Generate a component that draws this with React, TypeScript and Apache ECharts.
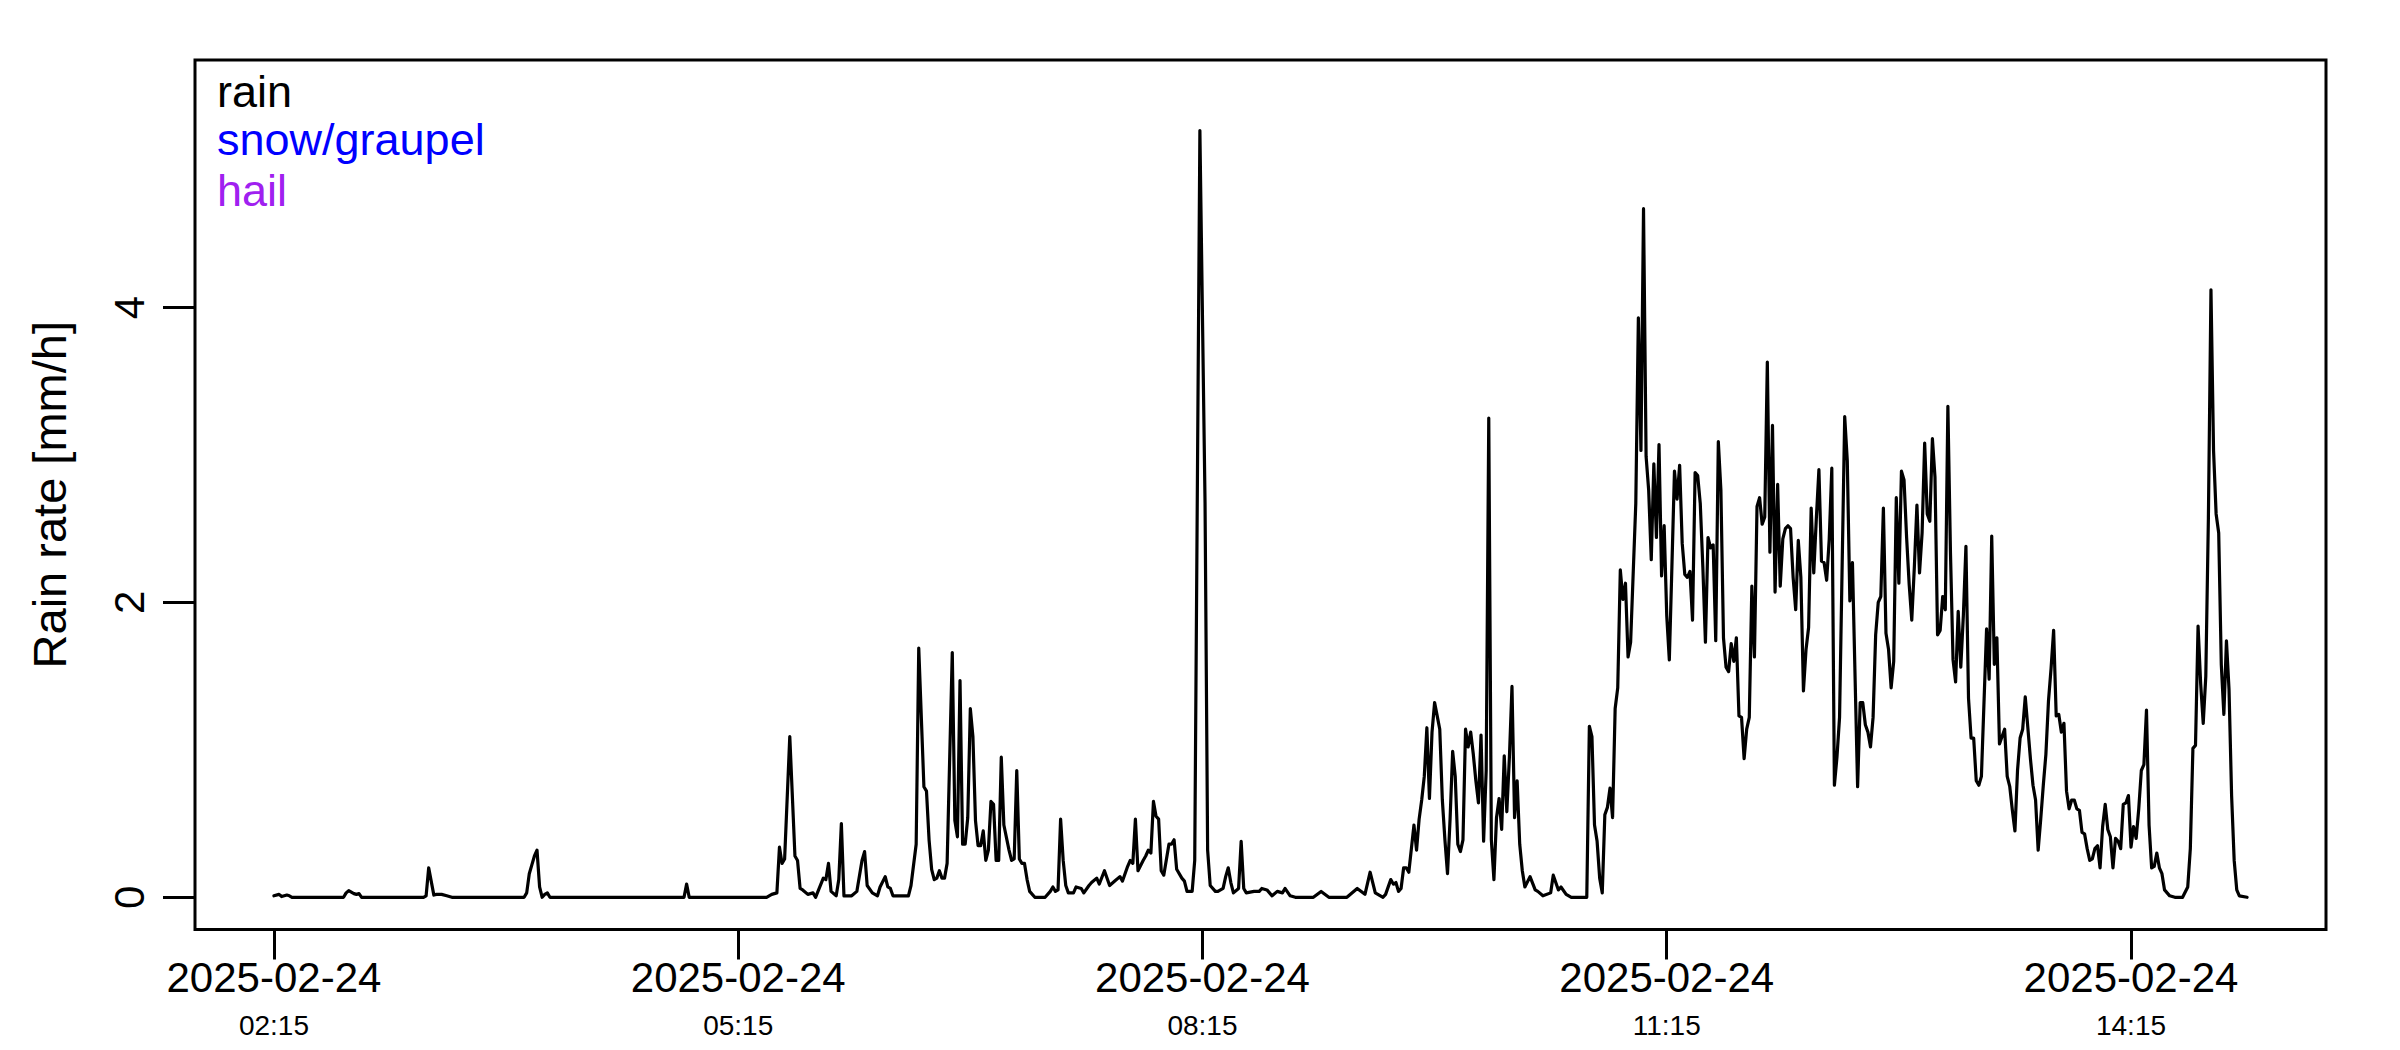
import React, { useEffect, useRef } from "react";
import * as echarts from "echarts";

// ---------- data ----------
const DATE_LABEL = "2025-02-24";
// minutes after midnight of the first measurement (02:15)
const SERIES_START_MINUTE = 135;

// [minutes after 02:15, rain rate mm/h]
const rainEarly: [number, number][] = [
  [0, 0.01], [2, 0.02], [3, 0.005], [5, 0.015], [6, 0.01], [7, 0], [27, 0], [28, 0.03], [29, 0.045],
  [31, 0.025], [32, 0.02], [33, 0.025], [34, 0], [58, 0], [59, 0.01], [60, 0.2], [62, 0.015], [63, 0.02],
  [65, 0.02], [67, 0.01], [69, 0], [97, 0], [98, 0.03], [99, 0.16], [100, 0.22], [101, 0.28], [102, 0.32],
  [103, 0.07], [104, 0], [105, 0.02], [106, 0.03], [107, 0], [159, 0], [160, 0.09], [161, 0], [191, 0],
];

const rainMorning: [number, number][] = [
  [193, 0.02], [195, 0.03], [196, 0.34], [197, 0.23], [198, 0.26], [200, 1.09], [202, 0.28], [203, 0.25],
  [204, 0.06], [205, 0.05], [207, 0.02], [209, 0.03], [210, 0], [213, 0.13], [214, 0.12], [215, 0.23],
  [216, 0.04], [218, 0.01], [219, 0.12], [220, 0.5], [221, 0.01], [224, 0.01], [226, 0.04], [228, 0.25],
  [229, 0.31], [230, 0.08], [232, 0.03], [234, 0.01], [235, 0.07], [237, 0.14], [238, 0.07], [239, 0.06],
  [240, 0.01], [246, 0.01], [247, 0.08], [249, 0.36], [250, 1.69], [252, 0.75], [253, 0.72], [254, 0.39],
  [255, 0.19], [256, 0.12], [257, 0.13], [258, 0.18], [259, 0.13], [260, 0.13], [261, 0.23], [263, 1.66],
  [264, 0.52], [265, 0.41], [266, 1.47], [267, 0.36], [268, 0.36], [269, 0.54], [270, 1.28], [271, 1.09],
  [272, 0.52], [273, 0.35], [274, 0.35], [275, 0.45], [276, 0.25], [277, 0.32], [278, 0.65], [279, 0.63],
  [280, 0.25], [281, 0.25], [282, 0.95], [283, 0.49], [285, 0.32], [286, 0.25], [287, 0.26], [288, 0.86],
  [289, 0.26], [290, 0.23], [291, 0.23], [292, 0.12], [293, 0.04], [295, 0], [299, 0], [301, 0.04],
  [302, 0.07], [303, 0.04], [304, 0.05], [305, 0.53], [306, 0.25], [307, 0.08], [308, 0.03], [310, 0.03],
  [311, 0.07], [313, 0.06], [314, 0.03], [316, 0.08], [317, 0.1], [319, 0.13], [320, 0.09], [322, 0.18],
  [324, 0.08], [326, 0.11], [328, 0.14], [329, 0.11], [331, 0.21], [332, 0.25], [333, 0.23], [334, 0.53],
  [335, 0.18], [337, 0.25], [338, 0.28], [339, 0.32], [340, 0.3], [341, 0.65], [342, 0.55], [343, 0.53],
  [344, 0.18], [345, 0.15], [347, 0.36], [348, 0.36], [349, 0.39], [350, 0.19], [352, 0.13], [353, 0.11],
  [354, 0.04], [356, 0.04], [357, 0.25], [359, 5.2], [361, 2.67], [362, 0.32], [363, 0.08], [365, 0.04],
  [366, 0.04], [368, 0.06], [369, 0.14], [370, 0.2], [371, 0.1], [372, 0.03], [374, 0.06], [375, 0.38],
  [376, 0.06], [377, 0.03], [380, 0.04], [382, 0.04], [383, 0.06], [385, 0.05], [387, 0.01], [389, 0.04],
  [391, 0.03], [392, 0.06], [394, 0.01],
];

const rainMidday: [number, number][] = [
  [396, 0], [403, 0], [406, 0.04], [409, 0], [416, 0], [420, 0.06], [423, 0.02], [425, 0.17], [427, 0.03],
  [430, 0], [431, 0.02], [433, 0.12], [434, 0.09], [435, 0.1], [436, 0.04], [437, 0.06], [438, 0.2],
  [439, 0.2], [440, 0.17], [441, 0.33], [442, 0.49], [443, 0.32], [444, 0.53], [445, 0.66], [446, 0.82],
  [447, 1.15], [448, 0.67], [449, 1.12], [450, 1.32], [451, 1.23], [452, 1.14], [453, 0.66], [454, 0.39],
  [455, 0.16], [456, 0.53], [457, 0.99], [458, 0.82], [459, 0.36], [460, 0.31], [461, 0.39], [462, 1.14],
  [463, 1.02], [464, 1.12], [465, 0.97], [466, 0.79], [467, 0.64], [468, 1.1], [469, 0.38], [470, 0.86],
  [471, 3.25], [472, 0.39], [473, 0.12], [474, 0.54], [475, 0.67], [476, 0.46], [477, 0.96], [478, 0.58],
  [479, 0.95], [480, 1.43], [481, 0.54], [482, 0.79], [483, 0.36], [484, 0.18], [485, 0.07], [487, 0.14],
  [489, 0.05], [490, 0.04], [492, 0.01], [495, 0.03], [496, 0.15], [498, 0.05], [499, 0.07], [501, 0.02],
  [503, 0], [509, 0], [510, 1.16], [511, 1.09], [512, 0.49], [513, 0.38], [514, 0.13], [515, 0.03],
  [516, 0.56], [517, 0.61], [518, 0.74], [519, 0.54], [520, 1.28], [521, 1.42], [522, 2.22], [523, 2.02],
  [524, 2.13], [525, 1.63], [526, 1.73], [528, 2.67], [529, 3.93], [530, 3.03], [531, 4.67], [532, 2.99],
  [533, 2.76], [534, 2.29], [535, 2.94], [536, 2.44], [537, 3.07], [538, 2.18], [539, 2.52], [540, 1.91],
  [541, 1.61], [542, 2.24], [543, 2.89], [544, 2.7], [545, 2.93], [546, 2.4], [547, 2.19], [548, 2.17],
  [549, 2.21], [550, 1.88], [551, 2.88], [552, 2.86], [553, 2.67], [554, 2.24], [555, 1.73], [556, 2.44],
  [557, 2.37], [558, 2.39], [559, 1.74], [560, 3.09], [561, 2.76], [562, 1.76], [563, 1.56], [564, 1.53],
  [565, 1.72], [566, 1.6], [567, 1.76], [568, 1.23], [569, 1.22], [570, 0.94], [571, 1.14], [572, 1.22],
  [573, 2.11], [574, 1.63], [575, 2.65], [576, 2.71], [577, 2.53], [578, 2.58], [579, 3.63], [580, 2.34],
  [581, 3.2], [582, 2.07], [583, 2.8], [584, 2.11], [585, 2.43], [586, 2.5], [587, 2.52], [588, 2.5],
  [589, 2.17], [590, 1.95], [591, 2.42], [592, 2.17], [593, 1.4], [594, 1.68], [595, 1.83], [596, 2.64],
  [597, 2.2], [598, 2.57], [599, 2.9], [600, 2.28],
];

const rainAfternoon: [number, number][] = [
  [601, 2.27], [602, 2.15], [603, 2.43], [604, 2.91], [605, 0.76], [606, 0.95], [607, 1.22], [609, 3.26],
  [610, 2.96], [611, 2.01], [612, 2.27], [614, 0.75], [615, 1.32], [616, 1.32], [617, 1.17], [618, 1.12],
  [619, 1.02], [620, 1.22], [621, 1.78], [622, 2.0], [623, 2.04], [624, 2.64], [625, 1.79], [626, 1.68],
  [627, 1.42], [628, 1.6], [629, 2.71], [630, 2.13], [631, 2.89], [632, 2.83], [633, 2.44], [634, 2.12],
  [635, 1.88], [636, 2.24], [637, 2.66], [638, 2.2], [639, 2.47], [640, 3.08], [641, 2.6], [642, 2.55],
  [643, 3.11], [644, 2.85], [645, 1.78], [646, 1.81], [647, 2.04], [648, 1.95], [649, 3.33], [650, 2.34],
  [651, 1.61], [652, 1.46], [653, 1.94], [654, 1.56], [655, 1.91], [656, 2.38], [657, 1.35], [658, 1.08],
  [659, 1.08], [660, 0.79], [661, 0.76], [662, 0.82], [663, 1.32], [664, 1.82], [665, 1.48], [666, 2.45],
  [667, 1.58], [668, 1.76], [669, 1.04], [670, 1.09], [671, 1.14], [672, 0.82], [673, 0.75], [674, 0.59],
  [675, 0.45], [676, 0.86], [677, 1.08], [678, 1.14], [679, 1.36], [680, 1.15], [681, 0.94], [682, 0.76],
  [683, 0.66], [684, 0.32], [685, 0.53], [686, 0.76], [687, 0.97], [688, 1.33], [689, 1.55], [690, 1.81],
  [691, 1.23], [692, 1.24], [693, 1.12], [694, 1.18], [695, 0.72], [696, 0.6], [697, 0.66], [698, 0.66],
  [699, 0.6], [700, 0.59], [701, 0.44], [702, 0.43], [703, 0.33], [704, 0.25], [705, 0.26], [706, 0.33],
  [707, 0.35], [708, 0.2], [709, 0.48], [710, 0.63], [711, 0.46], [712, 0.41], [713, 0.2], [714, 0.4],
  [715, 0.38], [716, 0.33], [717, 0.63], [718, 0.64], [719, 0.69], [720, 0.34], [721, 0.48], [722, 0.4],
  [723, 0.6], [724, 0.86], [725, 0.9], [726, 1.27], [727, 0.49], [728, 0.2], [729, 0.21], [730, 0.3],
  [731, 0.2], [732, 0.16], [733, 0.05], [735, 0.01], [737, 0], [740, 0], [742, 0.07], [743, 0.33],
  [744, 1.01], [745, 1.03], [746, 1.84], [747, 1.45], [748, 1.18], [749, 1.5], [750, 2.57], [751, 4.12],
  [752, 3.03], [753, 2.6], [754, 2.47], [755, 1.58], [756, 1.24], [757, 1.74], [758, 1.41], [759, 0.69],
  [760, 0.25], [761, 0.05], [762, 0.01], [765, 0],
];

// axis ranges (R style: data range extended by 4 %)
const X_MIN = 104.4;
const X_MAX = 930.6;
const Y_MIN = -0.2184;
const Y_MAX = 5.6784;

const xTickMinutes = [135, 315, 495, 675, 855];
const xTickDates = [DATE_LABEL, DATE_LABEL, DATE_LABEL, DATE_LABEL, DATE_LABEL];
const xTickTimes = ["02:15", "05:15", "08:15", "11:15", "14:15"];
const yTickValues = [0, 2, 4];
const yAxisTitle = "Rain rate [mm/h]";

const legendLabels = ["rain", "snow/graupel", "hail"];
const legendColors = ["#000000", "#0000FF", "#A020F0"];

const FONT = "'Liberation Sans', Arial, Helvetica, sans-serif";

export default function App() {
  const ref = useRef<HTMLDivElement>(null);

  useEffect(() => {
    if (!ref.current) return;
    const chart = echarts.init(ref.current, null, { renderer: "svg" });
    const series = [...rainEarly, ...rainMorning, ...rainMidday, ...rainAfternoon].map(
      ([m, v]) => [SERIES_START_MINUTE + m, v]
    );
    const legendY = [91, 139, 190];

    chart.setOption({
      animation: false,
      backgroundColor: "#ffffff",
      textStyle: { fontFamily: FONT },
      grid: {
        left: 195,
        right: 74,
        top: 60,
        bottom: 120.5,
        show: true,
        borderColor: "#000000",
        borderWidth: 3,
        backgroundColor: "transparent",
      },
      xAxis: {
        type: "value",
        min: X_MIN,
        max: X_MAX,
        axisLine: { show: false, onZero: false },
        splitLine: { show: false },
        axisTick: {
          show: true,
          customValues: xTickMinutes,
          length: 30,
          lineStyle: { color: "#000000", width: 3 },
        },
        axisLabel: {
          show: true,
          customValues: xTickMinutes,
          margin: 24,
          color: "#000000",
          fontFamily: FONT,
          formatter: (v: number) => {
            const i = xTickMinutes.findIndex((m) => Math.abs(m - v) < 0.01);
            if (i < 0) return "";
            return `{d|${xTickDates[i]}}\n{t|${xTickTimes[i]}}`;
          },
          rich: {
            d: { fontSize: 42, lineHeight: 48, fontFamily: FONT, color: "#000000" },
            t: { fontSize: 28, lineHeight: 48, fontFamily: FONT, color: "#000000" },
          },
        },
      },
      yAxis: {
        type: "value",
        min: Y_MIN,
        max: Y_MAX,
        name: yAxisTitle,
        nameLocation: "middle",
        nameRotate: 90,
        nameGap: 122,
        nameTextStyle: { fontSize: 47, fontFamily: FONT, color: "#000000", lineHeight: 47 },
        axisLine: { show: false, onZero: false },
        splitLine: { show: false },
        axisTick: {
          show: true,
          customValues: yTickValues,
          length: 32,
          lineStyle: { color: "#000000", width: 3 },
        },
        axisLabel: {
          show: true,
          customValues: yTickValues,
          rotate: 90,
          margin: 45,
          fontSize: 42,
          lineHeight: 42,
          color: "#000000",
          fontFamily: FONT,
        },
      },
      series: [
        {
          name: "rain",
          type: "line",
          data: series,
          symbol: "none",
          showSymbol: false,
          silent: true,
          lineStyle: { color: "#000000", width: 3.2, join: "round", cap: "round" },
        },
      ],
      graphic: legendLabels.map((label, i) => ({
        type: "text",
        x: 217,
        y: legendY[i],
        silent: true,
        style: {
          text: label,
          fill: legendColors[i],
          font: `45px ${FONT}`,
          lineHeight: 40,
          textAlign: "left",
          textVerticalAlign: "middle",
          verticalAlign: "middle",
        },
      })),
    });
    return () => chart.dispose();
  }, []);

  return (
    <div
      ref={ref}
      style={{ position: "absolute", left: 0, top: 0, width: 2400, height: 1050, background: "#ffffff" }}
    />
  );
}
